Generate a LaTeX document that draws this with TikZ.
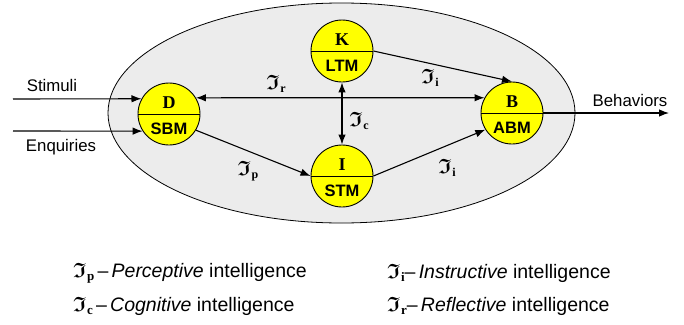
\documentclass[tikz,border=0pt]{standalone}
\usepackage{amssymb}
\usepackage{fontspec}
\setmainfont{Liberation Sans}
\newfontfamily\tnr{Liberation Serif}
\usetikzlibrary{arrows.meta,shapes.geometric}
% \Frak{size of I}{size of index}{lowering}{index}
\newcommand\Frak[4]{{\fontsize{#1}{#1}\selectfont\boldmath$\mathfrak{I}$}\kern0.3pt\raisebox{-#3}{\fontsize{#2}{#2}\selectfont\tnr\bfseries #4}}
\newcommand\Dl[1]{\Frak{20.74}{12}{3pt}{#1}}
\newcommand\Ll[1]{\Frak{20.74}{13}{3.5pt}{#1}}
\definecolor{sysgray}{RGB}{236,236,236}
\definecolor{memyellow}{RGB}{255,255,0}
\tikzset{
  x=1pt, y=-1pt,
  memory/.style={circle, draw=black, line width=0.9pt, fill=memyellow, minimum size=62pt, inner sep=0pt},
  toplbl/.style={font=\fontsize{18}{18}\selectfont\tnr\bfseries, inner sep=0pt},
  botlbl/.style={font=\fontsize{16.5}{16.5}\selectfont\bfseries, inner sep=0pt},
  flow/.style={line width=1.1pt, -{Latex[length=10pt,width=7.5pt]}},
  biflow/.style={line width=1.1pt, {Latex[length=10pt,width=7.5pt]}-{Latex[length=10pt,width=7.5pt]}},
  iolbl/.style={font=\fontsize{16.8}{16.8}\selectfont, inner sep=0pt},
  arclbl/.style={inner sep=0pt},
  legend/.style={font=\fontsize{19.5}{19.5}\selectfont, inner sep=0pt, anchor=west},
}
\begin{document}
\begin{tikzpicture}
\useasboundingbox (0,0) rectangle (684,324);
% system ellipse
\node[ellipse, draw=black, line width=0.8pt, fill=sysgray, minimum width=467pt, minimum height=220pt, inner sep=0pt] (sys) at (341.5,113) {};
% memories
\node[memory] (D) at (169,114) {};
\node[memory] (K) at (342,51) {};
\node[memory] (I) at (342,176) {};
\node[memory] (B) at (512,113) {};
\foreach \n in {D,K,I,B}{\draw[line width=0.9pt] (\n.west) -- (\n.east);}
\node[toplbl] (Dt) at (169,103) {D};
\node[botlbl] (Db) at (169,129) {SBM};
\node[toplbl] (Kt) at (342,40) {K};
\node[botlbl] (Kb) at (342,66) {LTM};
\node[toplbl] (It) at (342,165) {I};
\node[botlbl] (Ib) at (342,191) {STM};
\node[toplbl] (Bt) at (512,102) {B};
\node[botlbl] (Bb) at (512,128) {ABM};
% inputs / outputs
\coordinate (sIn) at (13,99);
\coordinate (eIn) at (13,131);
\coordinate (bOut) at (669,113);
\draw[flow] (sIn) -- (D.151);
\draw[flow] (eIn) -- (D.213);
\draw[flow] (B.east) -- (bOut);
\node[iolbl] (stim) at (52,85) {Stimuli};
\node[iolbl] (enq) at (61,147) {Enquiries};
\node[iolbl] (beh) at (630,100) {Behaviors};
% internal flows
\draw[biflow] (D.31) -- (B.151);
\draw[biflow] (K.south) -- (I.north);
\draw[flow] (D.-31) -- (I.west);
\draw[flow] (K.east) -- (B.north);
\draw[flow] (I.east) -- (B.212);
% arc labels
\node[arclbl] (lr) at (276,84) {\Dl{r}};
\node[arclbl] (lc) at (359,121) {\Dl{c}};
\node[arclbl] (lp) at (248,171) {\Dl{p}};
\node[arclbl] (li1) at (430,78) {\Dl{i}};
\node[arclbl] (li2) at (447,168) {\Dl{i}};
% legend
\node[legend] (g1) at (73,273) {\Ll{p}\,–\,\textit{Perceptive} intelligence};
\node[legend] (g2) at (73,306) {\Ll{c}\,–\,\textit{Cognitive} intelligence};
\node[legend] (g3) at (387,273) {\Ll{i}–\,\textit{Instructive} intelligence};
\node[legend] (g4) at (387,306) {\Ll{r}–\,\textit{Reflective} intelligence};
\end{tikzpicture}
\end{document}
